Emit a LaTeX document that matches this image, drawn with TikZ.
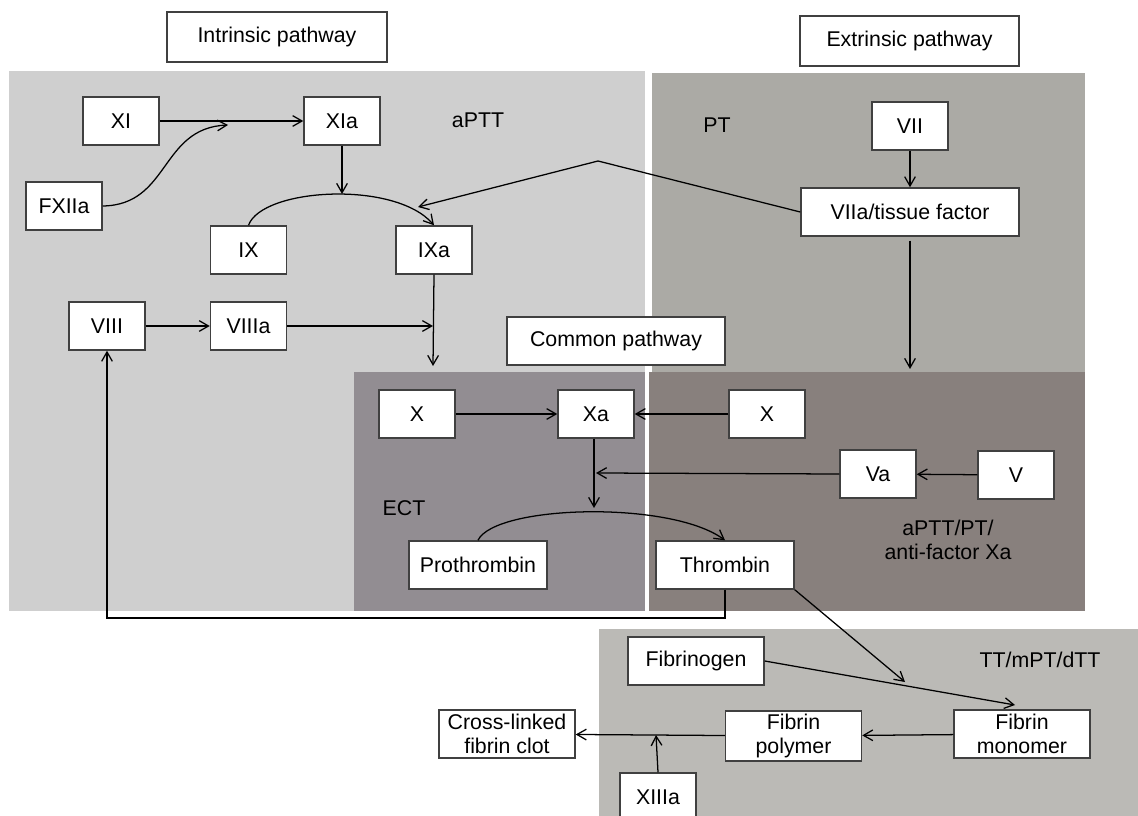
\documentclass[tikz,border=0pt]{standalone}
\usepackage{fontspec}
\setmainfont{Liberation Sans}
\usetikzlibrary{arrows.meta}
\definecolor{intrbg}{HTML}{CFCFCF}
\definecolor{extrbg}{HTML}{ABAAA5}
\definecolor{ectbg}{HTML}{928D92}
\definecolor{combg}{HTML}{88807D}
\definecolor{ttbg}{HTML}{BBBAB6}
\definecolor{boxline}{HTML}{404040}
\tikzset{
  fbox/.style={draw=boxline, line width=1.1pt, fill=white, inner sep=0pt, align=center,
    minimum width=57pt, minimum height=36pt, font=\fontsize{16pt}{18pt}\selectfont},
  wbox/.style={fbox, minimum width=102pt},
  lbl/.style={inner sep=0pt, align=center, font=\fontsize{16pt}{18.5pt}\selectfont},
  arr/.style={draw=black, line width=0.95pt, -{Straight Barb[length=7pt,width=8pt,line width=0.95pt]}},
}
\begin{document}
\begin{tikzpicture}[x=0.75pt,y=-0.75pt]
\useasboundingbox (0,0) rectangle (1138,816);
% regions
\fill[intrbg] (9,71) rectangle (645,611);
\fill[extrbg] (652,73) rectangle (1085,372);
\fill[ectbg] (354,372) rectangle (645,611);
\fill[combg] (649,372) rectangle (1085,611);
\fill[ttbg] (599,629) rectangle (1138,816);
% title boxes
\node[fbox, minimum width=165pt, minimum height=37.5pt] (intr) at (277,37) {Intrinsic pathway};
\node[fbox, minimum width=164pt, minimum height=37.5pt] (extr) at (909.5,41) {Extrinsic pathway};
\node[fbox, minimum width=163.5pt] (common) at (616,341) {Common pathway};
% labels
\node[lbl] (aptt) at (478,120) {aPTT};
\node[lbl] (pt) at (717,125) {PT};
\node[lbl] (ect) at (404,508) {ECT};
\node[lbl] (mix) at (948,540) {aPTT/PT/\\anti-factor Xa};
\node[lbl] (tt) at (1040,660) {TT/mPT/dTT};
% nodes
\node[fbox] (XI) at (121,121) {XI};
\node[fbox] (XIa) at (342,121) {XIa};
\node[fbox] (FXIIa) at (64,206) {FXIIa};
\node[fbox] (IX) at (248.5,250) {IX};
\node[fbox] (IXa) at (434,250) {IXa};
\node[fbox] (VIII) at (107,326) {VIII};
\node[fbox] (VIIIa) at (248.5,326) {VIIIa};
\node[fbox] (VII) at (910,126) {VII};
\node[fbox, minimum width=163.5pt] (VIIa) at (910,212) {VIIa/tissue factor};
\node[fbox] (Xl) at (417,414) {X};
\node[fbox] (Xa) at (596,414) {Xa};
\node[fbox] (Xr) at (767,414) {X};
\node[fbox] (Va) at (878,474) {Va};
\node[fbox] (V) at (1016,475) {V};
\node[wbox, minimum width=103.5pt] (Pro) at (478,565) {Prothrombin};
\node[wbox, minimum width=103.5pt] (Thr) at (725,565) {Thrombin};
\node[wbox] (Fgn) at (696,661) {Fibrinogen};
\node[wbox, minimum height=37.5pt] (poly) at (793.5,736) {Fibrin\\polymer};
\node[wbox] (mono) at (1022,734) {Fibrin\\monomer};
\node[wbox] (clot) at (507,734) {Cross-linked\\fibrin clot};
\node[fbox] (XIIIa) at (658,797) {XIIIa};
% free ends
\coordinate (fx) at (228,125);
\coordinate (xiaend) at (342,194);
\coordinate (bend) at (598,161);
\coordinate (tfend) at (418,207);
\coordinate (viiiaend) at (433,326);
\coordinate (ixaend) at (433,366);
\coordinate (tfdown) at (910,369);
\coordinate (xaend) at (594,508);
\coordinate (vaend) at (596,473);
\coordinate (lb) at (107,618);
\coordinate (thrend) at (905,682);
\coordinate (fgnend) at (1015,705);
\coordinate (xiiiend) at (656,735);
% connectors
\draw[arr] (XI) -- (XIa);
\draw[arr] (FXIIa.east) .. controls (170,205) and (160,128) .. (fx);
\draw[arr] (XIa.south) -- (xiaend);
\draw[arr] (IX.north) .. controls (262,188) and (395,180) .. (IXa.north);
\draw[arr] (VIIa.west) -- (bend) -- (tfend);
\draw[arr] (VIII) -- (VIIIa);
\draw[arr] (VIIIa.east) -- (viiiaend);
\draw[arr] (IXa.south) -- (ixaend);
\draw[arr] (VII) -- (VIIa);
\draw[arr] ([yshift=-3pt]VIIa.south) -- (tfdown);
\draw[arr] (Xl) -- (Xa);
\draw[arr] (Xr) -- (Xa);
\draw[arr] ([xshift=-1.5pt]Xa.south) -- (xaend);
\draw[arr] (Va.west) -- (vaend);
\draw[arr] (V) -- (Va);
\draw[arr] (Pro.north) .. controls (495,505) and (670,500) .. (Thr.north);
\draw[arr] (Thr.south) |- (lb) -- (VIII.south);
\draw[arr] (Thr.south east) -- (thrend);
\draw[arr] (Fgn.east) -- (fgnend);
\draw[arr] (mono) -- (poly);
\draw[arr] (poly) -- (clot);
\draw[arr] (XIIIa.north) -- (xiiiend);
\end{tikzpicture}
\end{document}
